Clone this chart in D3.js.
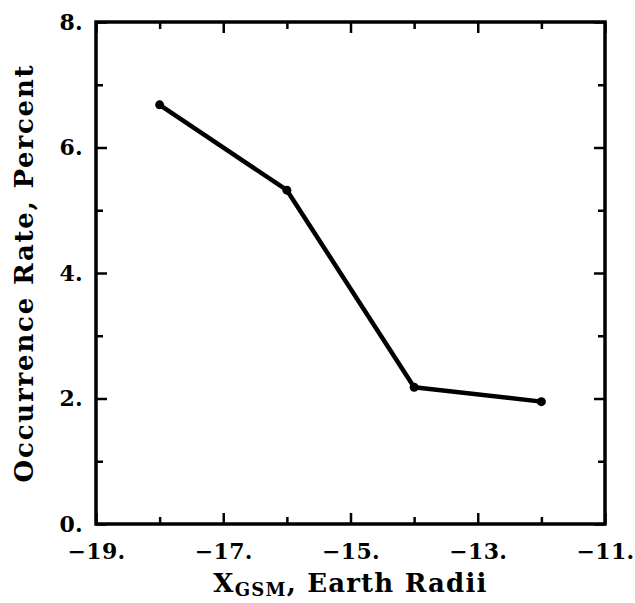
<!DOCTYPE html>
<html>
<head>
<meta charset="utf-8">
<script src="https://cdn.jsdelivr.net/npm/d3@7"></script>
<style>
  html, body { margin: 0; padding: 0; background: #fff; }
  svg { display: block; }
  text { font-family: "DejaVu Serif", serif; font-weight: bold; fill: #000; }
</style>
</head>
<body>
<svg id="chart" width="635" height="603"></svg>
<script>
// Occurrence rate versus X_GSM distance
const xValues = [-18, -16, -14, -12];
const rateValues = [6.68, 5.32, 2.18, 1.95];

const xMajorTicks = [-19, -17, -15, -13, -11];
const xMajorLabels = ["\u221219.", "\u221217.", "\u221215.", "\u221213.", "\u221211."];
const xMinorTicks = [-18, -16, -14, -12];
const yMajorTicks = [0, 2, 4, 6, 8];
const yMajorLabels = ["0.", "2.", "4.", "6.", "8."];
const yMinorTicks = [1, 3, 5, 7];

const margin = { left: 96, top: 22, right: 30, bottom: 79 };
const W = 635, H = 603;
const svg = d3.select("#chart");

const x = d3.scaleLinear().domain([-19, -11]).range([margin.left, W - margin.right]);
const y = d3.scaleLinear().domain([0, 8]).range([H - margin.bottom, margin.top]);

const majorLen = 11, minorLen = 7;

function styleAxis(g) {
  g.select(".domain").remove();
  g.selectAll(".tick line").attr("stroke", "#000").attr("stroke-width", 2.5);
}
function styleLabels(g) {
  g.attr("font-size", null).attr("font-family", null);
  g.selectAll("text")
    .style("font-size", "22px").style("letter-spacing", "0.3px")
    .style("font-family", "'DejaVu Serif', serif").style("font-weight", "bold");
}

// bottom axis: labelled majors and unlabelled minors, ticks pointing inward
svg.append("g")
  .attr("transform", `translate(0,${y(0)})`)
  .call(d3.axisBottom(x).tickValues(xMajorTicks).tickSize(-majorLen).tickPadding(majorLen + 8)
    .tickFormat((d, i) => xMajorLabels[i]))
  .call(styleAxis)
  .call(styleLabels);
svg.append("g")
  .attr("transform", `translate(0,${y(0)})`)
  .call(d3.axisBottom(x).tickValues(xMinorTicks).tickSize(-minorLen).tickFormat(""))
  .call(styleAxis);

// top axis ticks
svg.append("g")
  .attr("transform", `translate(0,${y(8)})`)
  .call(d3.axisTop(x).tickValues(xMajorTicks).tickSize(-majorLen).tickFormat(""))
  .call(styleAxis);
svg.append("g")
  .attr("transform", `translate(0,${y(8)})`)
  .call(d3.axisTop(x).tickValues(xMinorTicks).tickSize(-minorLen).tickFormat(""))
  .call(styleAxis);

// left axis with labels
svg.append("g")
  .attr("transform", `translate(${x(-19)},0)`)
  .call(d3.axisLeft(y).tickValues(yMajorTicks).tickSize(-majorLen).tickPadding(13)
    .tickFormat((d, i) => yMajorLabels[i]))
  .call(styleAxis)
  .call(styleLabels);
svg.append("g")
  .attr("transform", `translate(${x(-19)},0)`)
  .call(d3.axisLeft(y).tickValues(yMinorTicks).tickSize(-minorLen).tickFormat(""))
  .call(styleAxis);

// right axis ticks
svg.append("g")
  .attr("transform", `translate(${x(-11)},0)`)
  .call(d3.axisRight(y).tickValues(yMajorTicks).tickSize(-majorLen).tickFormat(""))
  .call(styleAxis);
svg.append("g")
  .attr("transform", `translate(${x(-11)},0)`)
  .call(d3.axisRight(y).tickValues(yMinorTicks).tickSize(-minorLen).tickFormat(""))
  .call(styleAxis);

// plot frame
svg.append("rect")
  .attr("x", x(-19)).attr("y", y(8))
  .attr("width", x(-11) - x(-19)).attr("height", y(0) - y(8))
  .attr("fill", "none").attr("stroke", "#000").attr("stroke-width", 3.5);

// data line and markers
const pts = xValues.map((v, i) => [v, rateValues[i]]);
svg.append("path")
  .datum(pts)
  .attr("fill", "none").attr("stroke", "#000").attr("stroke-width", 4.5)
  .attr("stroke-linejoin", "round").attr("stroke-linecap", "round")
  .attr("d", d3.line().x(d => x(d[0])).y(d => y(d[1])));
svg.selectAll("circle.pt")
  .data(pts).join("circle")
  .attr("class", "pt")
  .attr("cx", d => x(d[0])).attr("cy", d => y(d[1]))
  .attr("r", 4.5).attr("fill", "#000");

// axis titles
const xt = svg.append("text")
  .attr("x", (x(-19) + x(-11)) / 2).attr("y", 592)
  .attr("text-anchor", "middle").attr("font-size", 26).attr("letter-spacing", 1.2);
xt.append("tspan").text("X");
xt.append("tspan").attr("font-size", 18).attr("dy", 4).text("GSM");
xt.append("tspan").attr("dy", -4).text(",  Earth Radii");

svg.append("text")
  .attr("transform", `translate(33,${(y(0) + y(8)) / 2}) rotate(-90)`)
  .attr("text-anchor", "middle").attr("font-size", 26).attr("letter-spacing", 1.8)
  .text("Occurrence Rate, Percent");
</script>
</body>
</html>
